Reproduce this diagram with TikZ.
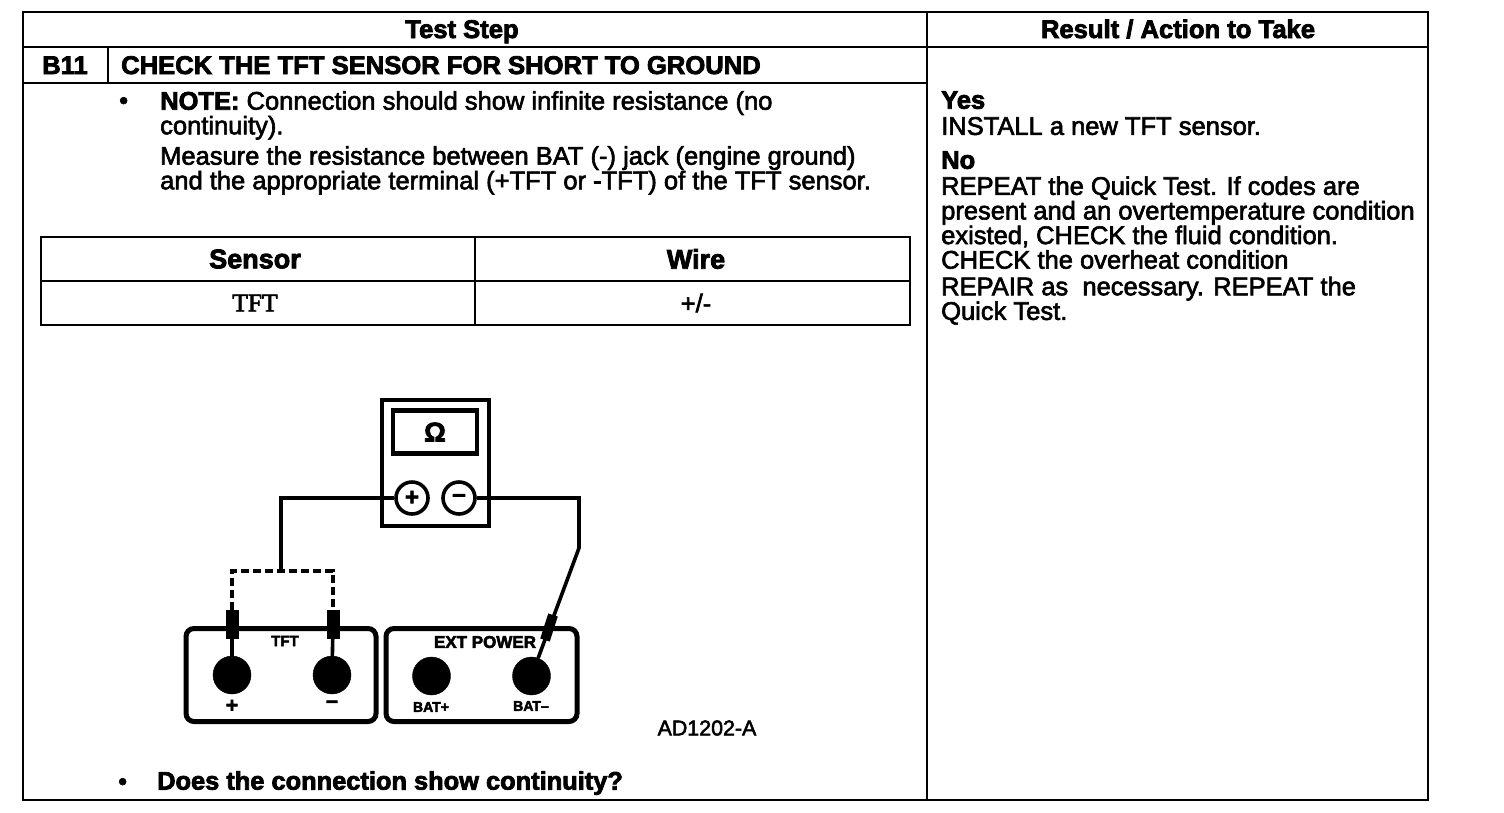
\documentclass[tikz,border=0pt]{standalone}
\usepackage{fontspec}
\setmainfont{Liberation Sans}
\newfontfamily\heavyfont{Liberation Sans Bold}[FakeBold=3]
\newfontfamily\bodyfont{Liberation Sans}[FakeBold=2.4]
\newfontfamily\serifheavy{Liberation Serif}[FakeBold=2.5]
\usetikzlibrary{positioning}
\tikzset {
  % table rules
  rule/.style = {draw, line width=2.6pt},
  % text of the table
  heading/.style = {inner sep=0pt, anchor=base, font=\heavyfont\fontsize{25.6}{25.6}\selectfont},
  bighead/.style = {inner sep=0pt, font=\heavyfont\fontsize{27}{27}\selectfont},
  body/.style = {inner sep=0pt, anchor=north west, align=left, font=\bodyfont\fontsize{25.5}{24.6}\selectfont},
  % meter and its wires
  case/.style = {draw, line width=5pt, rounded corners=8pt, minimum height=93pt},
  jack/.style = {draw, fill=black, circle, inner sep=0pt, minimum size=38pt},
  probe/.style = {draw, fill=black, inner sep=0pt, minimum width=12pt, minimum height=28pt},
  post/.style = {draw, circle, line width=3.6pt, inner sep=0pt, minimum size=32pt, font=\heavyfont\fontsize{24}{24}\selectfont},
  wire/.style = {line width=3.6pt},
  tag/.style = {inner sep=0pt, font=\heavyfont\fontsize{14}{14}\selectfont},
}
\begin{document}
\begin{tikzpicture}[x=1pt, y=-1pt]
  \useasboundingbox (0,0) rectangle (1504,812);
  % outer table
  \draw[rule] (23,12) rectangle (1428,800);
  \draw[rule] (23,47) -- (1428,47);
  \draw[rule] (23,83) -- (927,83);
  \draw[rule] (927,12) -- (927,800);
  \draw[rule] (108,47) -- (108,83);

  \node[heading] (teststep) at (462,38) {Test Step};
  \node[heading] (result) at (1178,38) {Result / Action to Take};
  \node[heading] (b11) at (65,74) {B11};
  \node[heading, anchor=base west] (title) at (121,74) {CHECK THE TFT SENSOR FOR SHORT TO GROUND};

  \node[body] (dot1) at (119,97) {•};
  \node[body] (note) at (160,91) {{\heavyfont NOTE:} Connection should show infinite resistance (no\\continuity).};
  \node[body] (measure) at (160,146) {Measure the resistance between BAT (-) jack (engine ground)\\and the appropriate terminal (+TFT or -TFT) of the TFT sensor.};

  % answers
  \node[body] (yes) at (941,91) {{\heavyfont Yes}\\[1.5pt]INSTALL a new TFT sensor.};
  \node[body] (no) at (941,151) {{\heavyfont No}\\[1.5pt]REPEAT the Quick Test. If codes are\\present and an overtemperature condition\\existed, CHECK the fluid condition.\\CHECK the overheat condition\\[2pt]REPAIR as \ necessary. REPEAT the\\Quick Test.};

  % sensor table
  \draw[rule] (41,237) rectangle (910,325);
  \draw[rule] (41,281) -- (910,281);
  \draw[rule] (475,237) -- (475,325);
  \node[bighead] (sensor) at (255,259) {Sensor};
  \node[bighead] (wirehead) at (696,259) {Wire};
  \node[inner sep=0pt, font=\serifheavy\fontsize{25.5}{25.5}\selectfont] (tft) at (255,303) {TFT};
  \node[body, anchor=center] (plusminus) at (696,303) {+/-};

  % meter
  \draw[line width=4.4pt] (382,400) rectangle (489,526);
  \node[draw, line width=4.4pt, minimum width=84pt, minimum height=43pt, inner sep=0pt, font=\heavyfont\fontsize{27}{27}\selectfont] (display) at (435,432) {Ω};
  \node[post] (plus) at (412,498) {+};
  \node[post] (minus) at (459,498) {–};

  % sensor boxes
  \node[case, minimum width=190pt] (tftbox) at (281,675) {};
  \node[case, minimum width=191pt] (extbox) at (481.5,675) {};
  \node[jack] (j1) at (232,675) {};
  \node[jack] (j2) at (332,675) {};
  \node[jack] (j3) at (431.5,676) {};
  \node[jack] (j4) at (531.5,676) {};
  \node[tag, font=\heavyfont\fontsize{15}{15}\selectfont] (tfttag) at (285,641) {TFT};
  \node[tag, font=\heavyfont\fontsize{17}{17}\selectfont] (exttag) at (485,642) {EXT POWER};
  \node[tag, font=\heavyfont\fontsize{21}{21}\selectfont] (ptag) at (232,706) {+};
  \node[tag, font=\heavyfont\fontsize{21}{21}\selectfont] (mtag) at (332,704) {–};
  \node[tag] (battag) at (431,707) {BAT+};
  \node[tag] (bmtag) at (531,706) {BAT–};

  % probes on the TFT terminals
  \node[probe] (p1) at (232,624) {};
  \node[probe] (p2) at (333,624) {};
  \draw[wire] (p1) -- (j1);
  \draw[wire] (p2) -- (j2);

  % wires
  \coordinate (bend1) at (281,498);
  \coordinate (split) at (281,571);
  \coordinate (bend2) at (579,498);
  \coordinate (bend3) at (579,548);
  \draw[wire] (plus.west) -- (bend1) -- (split);
  \draw[wire] (minus.east) -- (bend2) -- (bend3) -- (j4);
  \draw[wire, dashed, dash pattern=on 8pt off 4pt] (p1.north) |- (split) -| (p2.north);
  \coordinate (tip1) at (553,615);
  \coordinate (tip2) at (545,640);
  \draw[line width=10pt] (tip1) -- (tip2);

  \node[body, anchor=center, font=\bodyfont\fontsize{21.4}{21.4}\selectfont] (code) at (707,728) {AD1202-A};

  \node[body] (dot2) at (118,778) {•};
  \node[body, font=\heavyfont\fontsize{25.4}{25.4}\selectfont] (question) at (157,771) {Does the connection show continuity?};
\end{tikzpicture}
\end{document}
